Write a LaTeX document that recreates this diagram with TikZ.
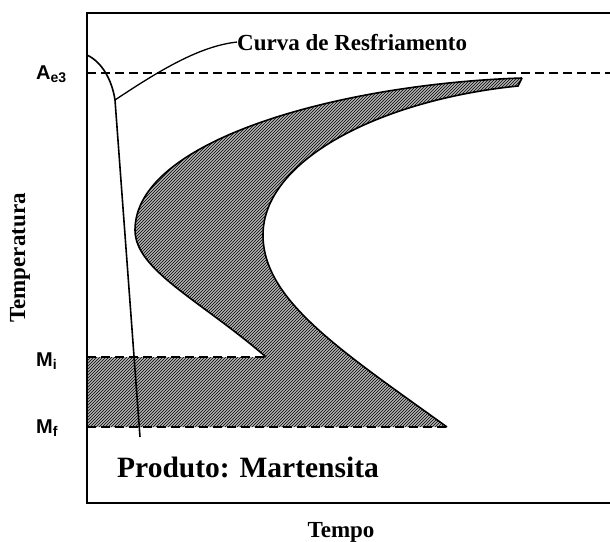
\documentclass[tikz,border=0pt]{standalone}
\usepackage{fontspec}
\setmainfont{Liberation Serif}
\newfontfamily\markfont{Liberation Sans}
\usetikzlibrary{patterns}

\begin{document}
\begin{tikzpicture}[x=1pt,y=-1pt,
  axisline/.style={line width=1.8pt},
  curveline/.style={line width=1.6pt},
  levelline/.style={line width=1.6pt, dash pattern=on 9pt off 5pt},
  axislabel/.style={font=\fontsize{23}{27}\selectfont\bfseries, inner sep=0pt},
  levellabel/.style={font=\markfont\bfseries\fontsize{20}{24}\selectfont, anchor=base west, inner sep=0pt},
  region/.style={fill=gray!60, postaction={pattern=north east lines, pattern color=black}}
]
\useasboundingbox (0,0) rectangle (610,541);

% Transformation region (hatched)
\path[region] (522,78) .. controls (340,84) and (135,140) .. (135,230)
  .. controls (135,270) and (200,300) .. (266,357)
  -- (87,357) -- (87,427) -- (447,427)
  .. controls (340,350) and (263,300) .. (263,235)
  .. controls (263,160) and (380,100) .. (518,86) -- cycle;

% Start and end curves
\draw[curveline] (522,78) .. controls (340,84) and (135,140) .. (135,230)
  .. controls (135,270) and (200,300) .. (266,357);
\draw[curveline] (447,427) .. controls (340,350) and (263,300) .. (263,235)
  .. controls (263,160) and (380,100) .. (518,86) -- (522,78);

% Levels
\draw[levelline] (87,73) -- (610,73);
\draw[levelline] (87,357) -- (266,357);
\draw[levelline] (87,427) -- (447,427);

% Frame
\draw[axisline] (610,13) -- (87,13) -- (87,503) -- (610,503);

% Labels
\node[axislabel, anchor=base west] (curvelabel) at (237,50) {Curva de Resfriamento};
\node[font=\fontsize{29.5}{34}\selectfont\bfseries, anchor=base west, inner sep=0pt] (product) at (117,477) {Produto: Martensita};
\node[axislabel, anchor=base] (timelabel) at (341,537) {Tempo};
\node[axislabel, rotate=90, anchor=base] (templabel) at (25,258) {Temperatura};
\node[levellabel] (ae3label) at (36,79) {A\textsubscript{e3}};
\node[levellabel] (milabel) at (36,366) {M\textsubscript{i}};
\node[levellabel] (mflabel) at (36,433) {M\textsubscript{f}};

% Cooling curve
\coordinate (coolstart) at (87,55);
\coordinate (coolknee) at (115,100);
\coordinate (coolend) at (140,437);
\draw[curveline] (coolstart) .. controls (102,62) and (112,80) .. (coolknee) -- (coolend);
\draw[line width=1.3pt] (coolknee) .. controls (160,70) and (200,46) .. (curvelabel.west);

\end{tikzpicture}
\end{document}
